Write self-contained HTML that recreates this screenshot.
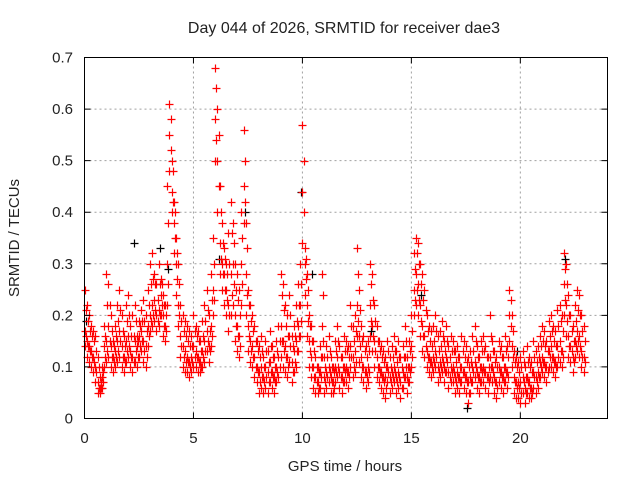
<!DOCTYPE html>
<html><head><meta charset="utf-8"><style>
body{margin:0;background:#fff;width:640px;height:480px;overflow:hidden}
text{font-family:"Liberation Sans",sans-serif;font-size:15px;fill:#222}
</style></head><body>
<svg id="chart" width="640" height="480" xmlns="http://www.w3.org/2000/svg">
<g id="grid"></g>
<g id="marks"></g>
<rect x="84.5" y="57.5" width="523" height="361" fill="none" stroke="#000"/>
<g id="ticks"></g>
<text x="344" y="33" text-anchor="middle" style="font-size:16px">Day 044 of 2026, SRMTID for receiver dae3</text>
<text x="345" y="471" text-anchor="middle">GPS time / hours</text>
<text x="0" y="0" text-anchor="middle" transform="translate(19,238) rotate(-90)">SRMTID / TECUs</text>
</svg>
<script>
const xTicks=[0,5,10,15,20];
const yTicks=[0,0.1,0.2,0.3,0.4,0.5,0.6,0.7];
const yTickLabels=["0","0.1","0.2","0.3","0.4","0.5","0.6","0.7"];
const tStart=0, tStep=0.1, tOffset=0.05;
const seriesA=[.25,.22,.20,.18,.17,.16,.12,.08,.10,.18,.28,.26,.20,.15,.18,.22,.25,.20,.16,.22,.24,.18,.20,.22,.16,.19,.21,.23,.20,.25,.30,.32,.28,.26,.30,.27,.24,.22,.45,.61,.50,.42,.35,.30,.22,.20,.19,.18,.17,.16,.20,.18,.17,.15,.19,.22,.25,.20,.28,.35,.68,.60,.45,.38,.33,.30,.36,.42,.38,.30,.28,.25,.40,.56,.38,.25,.22,.20,.18,.15,.14,.16,.12,.15,.13,.17,.14,.12,.15,.18,.28,.26,.22,.20,.24,.16,.18,.22,.26,.30,.57,.33,.28,.20,.18,.15,.12,.10,.14,.28,.12,.14,.16,.12,.10,.15,.18,.14,.12,.16,.15,.14,.22,.18,.20,.33,.25,.18,.16,.14,.15,.30,.28,.22,.18,.15,.14,.13,.12,.15,.12,.14,.16,.13,.15,.12,.14,.18,.12,.15,.20,.32,.35,.34,.30,.28,.25,.20,.18,.17,.18,.20,.16,.17,.19,.15,.18,.14,.16,.15,.13,.14,.12,.16,.15,.14,.12,.13,.16,.18,.14,.12,.15,.16,.14,.12,.20,.15,.13,.12,.15,.14,.12,.16,.14,.25,.20,.13,.12,.11,.12,.13,.10,.14,.12,.11,.15,.13,.14,.16,.18,.17,.15,.19,.20,.18,.17,.21,.22,.20,.32,.30,.24,.20,.18,.22,.25,.24,.20,.18];
const seriesB=[.17,.15,.14,.13,.12,.10,.07,.06,.08,.14,.15,.18,.14,.12,.13,.15,.17,.14,.12,.15,.16,.13,.12,.15,.14,.16,.17,.15,.14,.18,.20,.22,.23,.20,.21,.24,.20,.18,.30,.55,.44,.38,.30,.22,.16,.14,.13,.12,.11,.12,.14,.13,.12,.11,.13,.15,.17,.14,.18,.25,.58,.50,.34,.30,.28,.25,.22,.28,.30,.20,.18,.16,.30,.45,.28,.18,.15,.14,.12,.10,.09,.10,.08,.10,.09,.11,.09,.08,.10,.12,.18,.15,.14,.12,.16,.11,.13,.15,.18,.22,.44,.30,.22,.15,.12,.10,.08,.07,.09,.18,.08,.09,.10,.08,.07,.10,.12,.09,.08,.10,.10,.09,.14,.12,.13,.22,.16,.12,.10,.09,.10,.22,.18,.15,.12,.10,.09,.08,.08,.10,.08,.09,.10,.08,.09,.07,.09,.12,.08,.10,.14,.25,.28,.26,.22,.18,.16,.13,.12,.11,.12,.13,.10,.11,.12,.10,.12,.09,.10,.10,.08,.09,.08,.10,.09,.08,.07,.08,.10,.11,.09,.08,.10,.10,.09,.08,.12,.10,.08,.07,.10,.09,.08,.10,.09,.20,.14,.08,.07,.07,.07,.08,.06,.08,.07,.06,.09,.08,.09,.11,.12,.11,.10,.13,.14,.12,.11,.14,.15,.13,.26,.22,.16,.14,.12,.15,.17,.16,.13,.12];
const seriesC=[.14,.12,.11,.10,.09,.07,.05,.05,.06,.10,.11,.12,.10,.09,.10,.11,.12,.10,.09,.11,.12,.10,.09,.11,.10,.12,.13,.11,.10,.14,.17,.18,.19,.17,.18,.20,.16,.15,.22,.48,.40,.32,.24,.18,.12,.10,.09,.09,.08,.09,.10,.10,.09,.09,.10,.11,.13,.11,.14,.20,.50,.40,.28,.25,.22,.20,.17,.20,.22,.15,.13,.12,.22,.38,.20,.13,.11,.10,.08,.07,.05,.06,.05,.06,.05,.07,.06,.05,.07,.08,.12,.10,.09,.08,.11,.07,.09,.10,.13,.16,.34,.24,.16,.10,.08,.06,.05,.05,.06,.12,.05,.06,.07,.05,.05,.07,.08,.06,.05,.07,.07,.06,.10,.08,.09,.16,.11,.08,.07,.06,.07,.16,.13,.10,.08,.07,.06,.05,.04,.07,.05,.06,.07,.05,.06,.04,.06,.08,.05,.07,.10,.20,.22,.20,.16,.13,.12,.10,.09,.08,.09,.10,.07,.08,.09,.07,.09,.06,.07,.07,.05,.06,.05,.07,.06,.05,.03,.05,.07,.08,.06,.05,.07,.07,.06,.05,.08,.07,.05,.04,.07,.06,.05,.07,.06,.15,.10,.05,.04,.04,.03,.05,.03,.05,.04,.04,.06,.05,.06,.08,.09,.08,.07,.10,.10,.09,.08,.10,.11,.10,.20,.16,.12,.11,.09,.12,.13,.12,.10,.09];
const seriesD=[.21,.19,.17,.16,.15,.13,.10,.07,.09,.16,.22,.22,.17,.14,.16,.19,.21,.17,.14,.19,.20,.16,.16,.19,.15,.18,.19,.19,.17,.22,.26,.27,.26,.23,.26,.26,.22,.20,.38,.58,.48,.40,.32,.26,.19,.17,.16,.15,.14,.14,.17,.16,.15,.13,.16,.19,.21,.17,.23,.30,.64,.55,.40,.34,.31,.28,.30,.36,.34,.25,.23,.20,.35,.50,.33,.22,.19,.17,.15,.13,.12,.13,.10,.13,.11,.14,.12,.10,.13,.15,.24,.21,.18,.16,.20,.14,.16,.19,.22,.26,.50,.31,.25,.18,.15,.13,.10,.09,.12,.24,.10,.12,.13,.10,.09,.13,.15,.12,.10,.13,.13,.12,.18,.15,.17,.28,.21,.15,.13,.12,.13,.26,.23,.19,.15,.13,.12,.11,.10,.13,.10,.12,.13,.11,.12,.10,.12,.15,.10,.13,.17,.29,.32,.30,.26,.23,.21,.17,.15,.14,.15,.17,.13,.14,.16,.13,.15,.12,.13,.13,.11,.12,.10,.13,.12,.11,.10,.11,.13,.15,.12,.10,.13,.13,.12,.10,.16,.13,.11,.10,.13,.12,.10,.13,.12,.23,.17,.11,.10,.09,.10,.11,.08,.11,.10,.09,.12,.11,.12,.14,.15,.14,.13,.16,.17,.15,.14,.18,.19,.17,.29,.26,.20,.17,.15,.19,.21,.20,.17,.15];
const seriesE=[.16,.14,.13,.12,.11,.09,.06,.06,.07,.12,.13,.15,.12,.11,.12,.13,.15,.12,.11,.13,.14,.12,.11,.13,.12,.14,.15,.13,.12,.16,.19,.20,.21,.19,.20,.22,.18,.17,.26,.52,.42,.35,.27,.20,.14,.12,.11,.11,.10,.11,.12,.12,.11,.10,.12,.13,.15,.13,.16,.23,.54,.45,.31,.28,.25,.23,.20,.24,.26,.18,.16,.14,.26,.42,.24,.16,.13,.12,.10,.09,.07,.08,.07,.08,.07,.09,.08,.07,.09,.10,.15,.13,.12,.10,.14,.09,.11,.13,.16,.19,.40,.27,.19,.13,.10,.08,.07,.06,.08,.15,.07,.08,.09,.07,.06,.09,.10,.08,.07,.09,.09,.08,.12,.10,.11,.19,.14,.10,.09,.08,.09,.19,.16,.13,.10,.09,.08,.07,.06,.09,.07,.08,.09,.07,.08,.06,.08,.10,.07,.09,.12,.23,.25,.23,.19,.16,.14,.12,.11,.10,.11,.12,.09,.10,.11,.09,.11,.08,.09,.09,.07,.08,.07,.09,.08,.07,.05,.07,.09,.10,.08,.07,.09,.09,.08,.07,.10,.09,.07,.06,.09,.08,.07,.09,.08,.18,.12,.07,.06,.06,.05,.07,.05,.07,.06,.05,.08,.07,.08,.10,.11,.10,.09,.12,.12,.11,.10,.12,.13,.12,.23,.19,.14,.13,.11,.14,.15,.14,.12,.11];
const blackTimes=[0.05,2.25,3.45,3.85,6.15,7.35,9.95,13.15,15.45,17.55,19.85,22.05,10.45];
const blackValues=[0.19,0.34,0.33,0.29,0.31,0.40,0.44,0.17,0.24,0.02,0.13,0.31,0.28];
const X0=84.5,X1=607.5,Y0=418.5,Y1=57.5;
const xs=t=>X0+(t-0)/(24-0)*(X1-X0);
const ys=v=>Y0-(v-0)/(0.7-0)*(Y0-Y1);
const NS="http://www.w3.org/2000/svg";
const grid=document.getElementById('grid'),ticks=document.getElementById('ticks'),marks=document.getElementById('marks');
function mk(tag,attrs,parent){const e=document.createElementNS(NS,tag);for(const k in attrs)e.setAttribute(k,attrs[k]);parent.appendChild(e);return e;}
xTicks.forEach(t=>{const x=xs(t);
 if(t>0){const g=mk('line',{x1:x,x2:x,y1:Y0,y2:Y1,stroke:'#a0a0a0','stroke-dasharray':'2,3'},grid);
 
 }
 const a=mk('path',{d:`M${x},${Y0}v-6M${x},${Y1}v6`,stroke:'#000'},ticks);
 
 
 const l=mk('text',{x:x,y:443,'text-anchor':'middle'},ticks);l.textContent=String(t);
 
 
});
yTicks.forEach((v,i)=>{const y=ys(v);
 if(v>0&&v<0.7){const g=mk('line',{x1:X0,x2:X1,y1:y,y2:y,stroke:'#a0a0a0','stroke-dasharray':'2,3'},grid);
 
 }
 const a=mk('path',{d:`M${X0},${y}h6M${X1},${y}h-6`,stroke:'#000'},ticks);
 
 
 const l=mk('text',{x:73,y:y+5,'text-anchor':'end'},ticks);l.textContent=yTickLabels[i];
 
 
});
function plus(t,v,color){const x=Math.round(xs(t))+0.5,y=Math.round(ys(v))+0.5;
 const p=mk('path',{d:`M${x-4},${y}h8M${x},${y-4}v8`,stroke:color,'stroke-width':1.2},marks);
 
 }
blackTimes.forEach((t,i)=>plus(t,blackValues[i],'#000'));
[seriesA,seriesB,seriesC].forEach(s=>s.forEach((v,i)=>plus(tStart+i*tStep,v,'#ff0000')));
[seriesD,seriesE].forEach(s=>s.forEach((v,i)=>plus(tStart+tOffset+i*tStep,v,'#ff0000')));
</script>
</body></html>
